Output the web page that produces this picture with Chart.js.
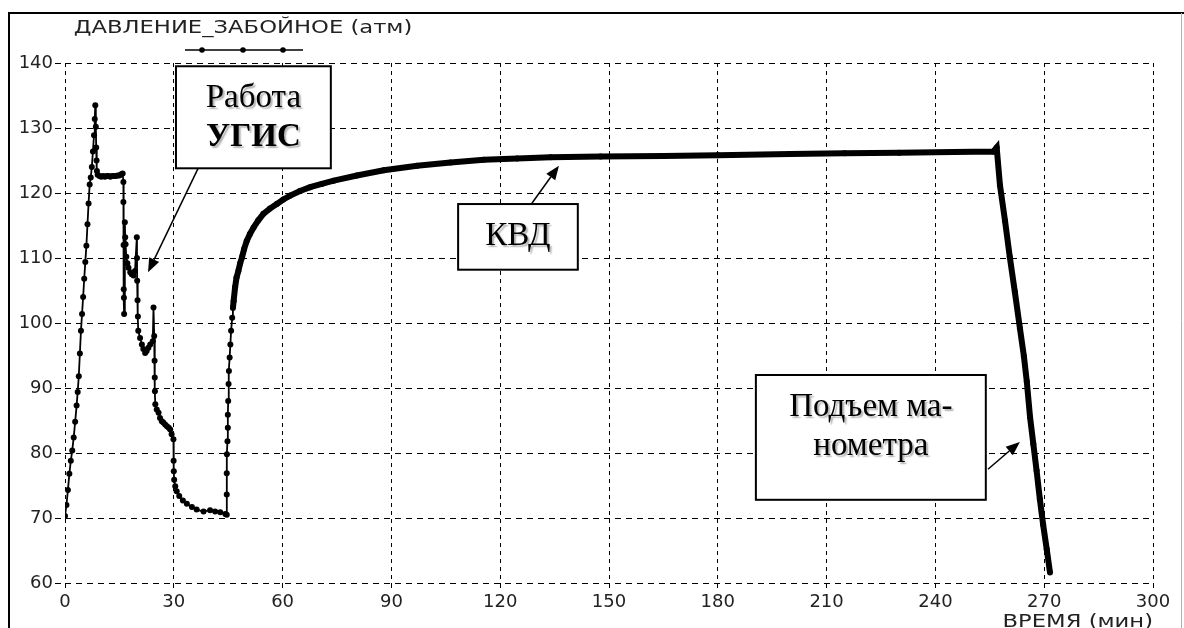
<!DOCTYPE html>
<html>
<head>
<meta charset="utf-8">
<script src="https://cdn.jsdelivr.net/npm/chart.js@4.4.0/dist/chart.umd.min.js"></script>
<style>
  body { margin: 0; background: #fff; }
  #wrap { position: relative; width: 1184px; height: 628px; }
</style>
</head>
<body>
<div id="wrap"><canvas id="pzab"></canvas></div>
<script>
// время, мин
const timeMin = [
  0, 0.4, 0.8, 1.2, 1.6, 2.0, 2.4, 2.8, 3.2, 3.5, 3.8, 4.1, 4.4, 4.7, 5.0, 5.3, 5.6, 5.9, 6.2, 6.5,
  6.8, 7.1, 7.4, 7.7, 8.0, 8.2, 8.35, 8.5, 8.6, 8.7, 8.8, 9.0,
  9.5, 10.0, 10.5, 11.0, 11.5, 12.0, 12.5, 13.0, 13.5, 14.0, 14.5, 15.0, 15.5, 15.9,
  16.1, 16.1, 16.15, 16.2, 16.25, 16.3,
  16.5, 16.6, 16.7, 16.9, 17.2, 17.5, 18.0, 18.4, 18.9, 19.3, 19.8,
  19.85, 19.9, 20.0, 20.1, 20.2, 20.7, 21.2, 21.6, 22.1, 22.5, 23.0, 23.5, 24.2, 24.4, 24.6, 24.7,
  24.75, 24.8, 24.9, 25.3, 25.8, 26.2, 26.7, 27.1, 27.6, 28.1, 28.6, 29.0, 29.4, 29.9,
  29.95, 30.0, 30.1, 30.4, 30.8, 31.5, 32.5, 33.6, 35.0, 36.3, 38.2, 40.0, 41.4, 42.8, 44.2, 44.6,
  44.6, 44.6, 44.65, 44.8, 44.9, 44.9, 45.0, 45.1, 45.2, 45.4, 45.6, 45.8, 46.1, 46.3,
  46.5, 46.9, 47.3, 47.8, 48.3, 48.8, 49.4, 50.1, 51.0, 52.0, 53.3, 54.7, 56.5, 58.4, 60.2, 62.1,
  64.8, 67.6, 70.8, 74.1, 80.5, 87.9, 97.1, 106.3, 115.5,
  124.7, 133.9, 147.7, 165, 180, 200, 215, 230, 245, 256, 256.9,
  257.8, 259.2, 260.5, 261.9, 263.3, 264.4, 265.2, 266.1, 267.0, 267.9, 268.8, 269.7, 270.7, 271.6
];
// давление забойное, атм
const pressureAtm = [
  70.3, 72.0, 74.3, 76.8, 78.8, 80.4, 82.4, 84.8, 87.3, 89.4, 91.8, 95.3, 98.8, 101.4, 104.0, 106.8, 109.4, 111.9, 115.2, 118.4,
  121.3, 122.4, 124.0, 126.4, 128.9, 131.4, 133.5, 130.2, 127.0, 125.0, 123.4, 122.8,
  122.6, 122.5, 122.6, 122.5, 122.6, 122.6, 122.5, 122.6, 122.6, 122.6, 122.7, 122.7, 122.9, 123.0,
  121.7, 118.6, 112.0, 105.2, 103.9, 101.4,
  115.5, 113.2, 112.1, 110.2, 109.2, 108.5, 107.8, 107.5, 107.3, 108.0, 113.2,
  110.0, 106.5, 103.5, 101.0, 98.8, 97.7, 96.7, 96.0, 95.4, 95.7, 96.2, 96.7, 97.2, 102.4, 98.0, 94.2,
  91.6, 89.5, 87.5, 86.7, 86.2, 85.4, 84.9, 84.7, 84.4, 84.1, 83.9, 83.6, 82.9, 82.1,
  78.8, 77.2, 75.9, 74.9, 74.1, 73.4, 72.7, 72.2, 71.7, 71.3, 71.0, 71.2, 71.0, 70.9, 70.6, 70.5,
  73.6, 76.9, 79.8, 81.8, 83.9, 85.9, 88.0, 90.6, 92.6, 94.7, 96.7, 98.8, 100.8, 102.3,
  103.4, 105.5, 107.0, 108.0, 109.2, 110.1, 111.4, 112.6, 113.7, 114.7, 115.8, 116.8, 117.6, 118.3, 119.0, 119.6,
  120.3, 120.9, 121.4, 121.9, 122.7, 123.5, 124.2, 124.7, 125.1,
  125.3, 125.5, 125.6, 125.7, 125.8, 126.0, 126.1, 126.2, 126.3, 126.4, 127.0,
  121.2, 115.7, 110.2, 104.8, 99.2, 94.9, 91.0, 85.5, 81.4, 77.3, 72.9, 69.0, 65.2, 61.6
];
const xTicks = [0, 30, 60, 90, 120, 150, 180, 210, 240, 270, 300];
const yTicks = [60, 70, 80, 90, 100, 110, 120, 130, 140];

// подписи-выноски (в координатах графика: мин, атм)
const notes = [
  { lines: [['Работа', false], ['УГИС', true]], box: [30.6, 139.5, 73.3, 123.8], from: [36.7, 123.8], to: [22.9, 107.8] },
  { lines: [['КВД', false]], box: [108.4, 118.3, 141.4, 108.2], from: [128.2, 118.0], to: [136.2, 124.2] },
  { lines: [['Подъем ма-', false], ['нометра', false]], box: [190.5, 92.0, 253.9, 72.8], from: [254.5, 77.5], to: [263.3, 81.7] }
];

function arrow(ctx, x1, y1, x2, y2) {
  const a = Math.atan2(y2 - y1, x2 - x1);
  const len = 14, half = 5.5;
  const bx = x2 - len * Math.cos(a), by = y2 - len * Math.sin(a);
  ctx.beginPath();
  ctx.moveTo(x1, y1);
  ctx.lineTo(bx, by);
  ctx.stroke();
  ctx.beginPath();
  ctx.moveTo(x2, y2);
  ctx.lineTo(bx + half * Math.sin(a), by - half * Math.cos(a));
  ctx.lineTo(bx - half * Math.sin(a), by + half * Math.cos(a));
  ctx.closePath();
  ctx.fill();
}

const decor = {
  id: 'decor',
  afterDraw(chart) {
    const ctx = chart.ctx;
    const xs = chart.scales.x, ys = chart.scales.y;
    ctx.save();
    // рамка
    ctx.strokeStyle = '#000';
    ctx.lineWidth = 2;
    ctx.beginPath();
    ctx.moveTo(8, 13); ctx.lineTo(1184, 13);
    ctx.moveTo(9, 13); ctx.lineTo(9, 628);
    ctx.stroke();
    ctx.strokeStyle = '#b0b0b0';
    ctx.lineWidth = 1;
    ctx.beginPath();
    ctx.moveTo(1181.5, 13); ctx.lineTo(1181.5, 628);
    ctx.stroke();

    // легенда
    const ds = chart.data.datasets[0];
    ctx.fillStyle = '#222';
    ctx.font = '18px "DejaVu Sans"';
    ctx.textAlign = 'center';
    ctx.textBaseline = 'alphabetic';
    ctx.save();
    ctx.translate(243, 33);
    ctx.scale(1.26, 1);
    ctx.fillText(ds.label, 0, 0);
    ctx.restore();
    ctx.strokeStyle = '#000';
    ctx.lineWidth = 1.5;
    ctx.beginPath();
    ctx.moveTo(185, 50); ctx.lineTo(303, 50);
    ctx.stroke();
    ctx.fillStyle = '#000';
    [202, 243, 283].forEach(px => {
      ctx.beginPath(); ctx.arc(px, 50, 2.8, 0, Math.PI * 2); ctx.fill();
    });

    // подпись оси X
    ctx.fillStyle = '#222';
    ctx.save();
    ctx.translate(xs.right, 627);
    ctx.scale(1.26, 1);
    ctx.textAlign = 'right';
    ctx.fillText('ВРЕМЯ (мин)', 0, 0);
    ctx.restore();

    // выноски
    notes.forEach(n => {
      const l = xs.getPixelForValue(n.box[0]), t = ys.getPixelForValue(n.box[1]);
      const r = xs.getPixelForValue(n.box[2]), b = ys.getPixelForValue(n.box[3]);
      ctx.strokeStyle = '#000';
      ctx.fillStyle = '#000';
      ctx.lineWidth = 1.5;
      arrow(ctx, xs.getPixelForValue(n.from[0]), ys.getPixelForValue(n.from[1]),
        xs.getPixelForValue(n.to[0]), ys.getPixelForValue(n.to[1]));
      ctx.fillStyle = '#fff';
      ctx.fillRect(l, t, r - l, b - t);
      ctx.lineWidth = 2;
      ctx.strokeRect(l, t, r - l, b - t);
      ctx.fillStyle = '#000';
      ctx.textAlign = 'center';
      ctx.textBaseline = 'alphabetic';
      ctx.save();
      ctx.shadowColor = 'rgba(0,0,0,0.3)';
      ctx.shadowOffsetX = 2;
      ctx.shadowOffsetY = 2;
      ctx.shadowBlur = 1.5;
      n.lines.forEach((ln, i) => {
        ctx.font = (ln[1] ? 'bold ' : '') + '33px "Liberation Serif"';
        ctx.fillText(ln[0], (l + r) / 2, t + 41 + i * 39);
      });
      ctx.restore();
    });
    ctx.restore();
  }
};

const chart = new Chart('pzab', {
  type: 'line',
  data: {
    datasets: [{
      label: 'ДАВЛЕНИЕ_ЗАБОЙНОЕ (атм)',
      data: timeMin.map((t, i) => ({ x: t, y: pressureAtm[i] })),
      borderColor: '#000',
      borderWidth: 1.8,
      pointRadius: 3,
      pointBackgroundColor: '#000',
      pointBorderWidth: 0,
      tension: 0,
      segment: {
        // плотные точки КВД и подъёма сливаются в толстую линию
        borderWidth: c => c.p0.parsed.x >= 46.3 ? 6 : 1.8
      }
    }]
  },
  options: {
    responsive: true,
    maintainAspectRatio: false,
    animation: false,
    layout: { padding: { left: 0, top: 63, right: 31, bottom: 0 } },
    plugins: {
      legend: { display: false },
      tooltip: { enabled: false }
    },
    scales: {
      x: {
        type: 'linear',
        min: 0,
        max: 300,
        afterBuildTicks: s => { s.ticks = xTicks.map(v => ({ value: v })); },
        afterFit: s => { s.height = 45; },
        ticks: { color: '#222', font: { family: 'DejaVu Sans', size: 18 }, padding: 4, maxRotation: 0 },
        grid: { color: '#000', lineWidth: 1, tickLength: 5, tickColor: '#000' },
        border: { display: false, dash: [4, 4] }
      },
      y: {
        min: 60,
        max: 140,
        afterBuildTicks: s => { s.ticks = yTicks.map(v => ({ value: v })); },
        afterFit: s => { s.width = 65; },
        ticks: { color: '#222', font: { family: 'DejaVu Sans', size: 18 }, padding: 2 },
        grid: { color: '#000', lineWidth: 1, tickLength: 10, tickColor: '#000', tickBorderDash: [6, 20] },
        border: { display: false, dash: [6, 5] }
      }
    }
  },
  plugins: [decor]
});
</script>
</body>
</html>
